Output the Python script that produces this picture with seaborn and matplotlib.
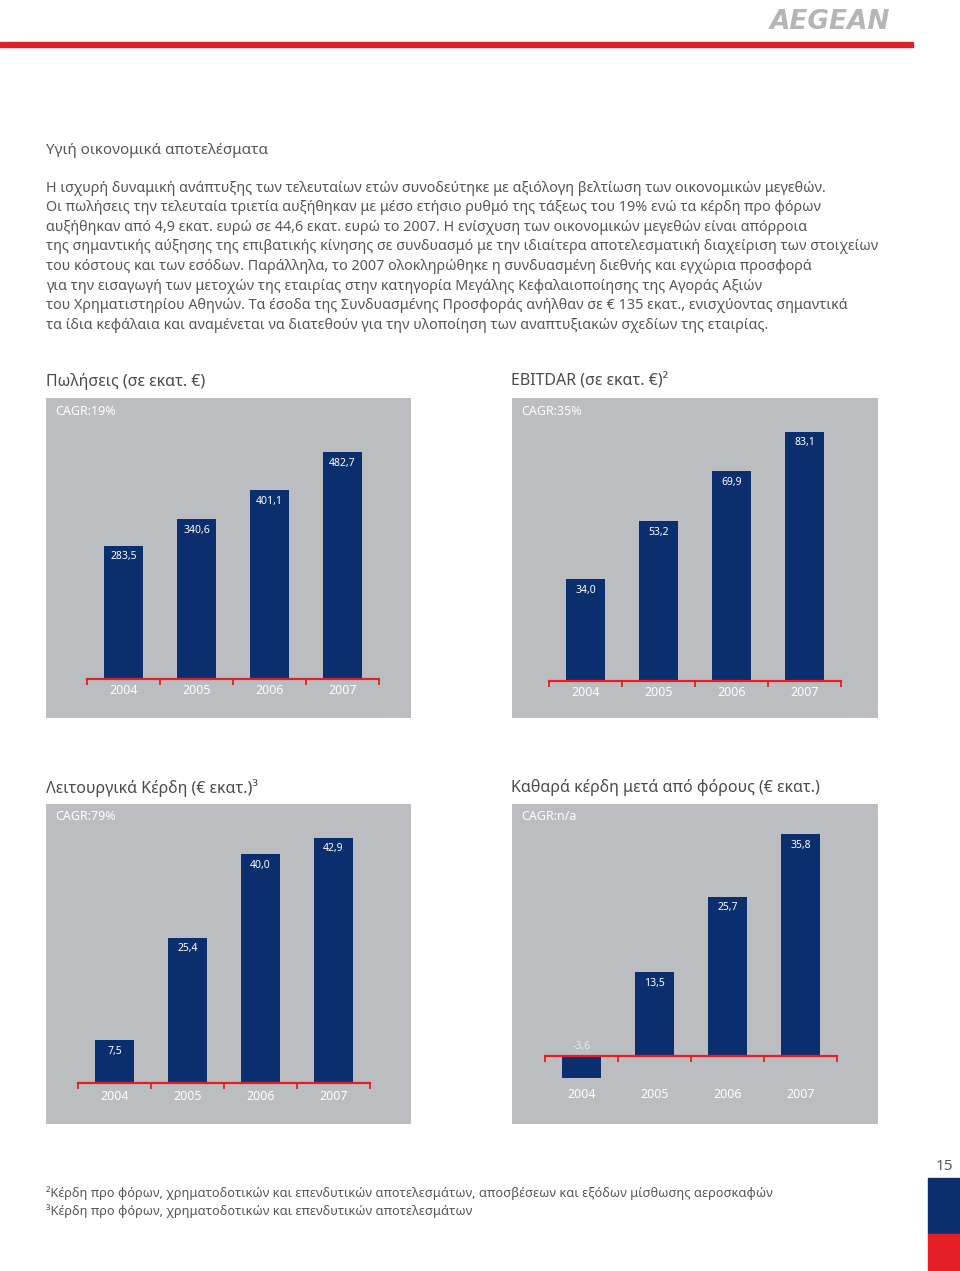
import pandas as pd
import seaborn as sns
import matplotlib.pyplot as plt
from matplotlib.patches import Rectangle

sns.set_style("white")
plt.rcParams['font.family'] = ['Noto Sans', 'DejaVu Sans']

# Δεδομένα
years = ['2004', '2005', '2006', '2007']
sales = [283.5, 340.6, 401.1, 482.7]
ebitdar = [34.0, 53.2, 69.9, 83.1]
operating = [7.5, 25.4, 40.0, 42.9]
net_profit = [-3.6, 13.5, 25.7, 35.8]

titles = ['Πωλήσεις (σε εκατ. €)', 'EBITDAR (σε εκατ. €)²',
          'Λειτουργικά Κέρδη (€ εκατ.)³', 'Καθαρά κέρδη μετά από φόρους (€ εκατ.)']
cagr = ['CAGR:19%', 'CAGR:35%', 'CAGR:79%', 'CAGR:n/a']

heading = 'Υγιή οικονομικά αποτελέσματα'
paragraph = [
    'Η ισχυρή δυναμική ανάπτυξης των τελευταίων ετών συνοδεύτηκε με αξιόλογη βελτίωση των οικονομικών μεγεθών.',
    'Οι πωλήσεις την τελευταία τριετία αυξήθηκαν με μέσο ετήσιο ρυθμό της τάξεως του 19% ενώ τα κέρδη προ φόρων',
    'αυξήθηκαν από 4,9 εκατ. ευρώ σε 44,6 εκατ. ευρώ το 2007. Η ενίσχυση των οικονομικών μεγεθών είναι απόρροια',
    'της σημαντικής αύξησης της επιβατικής κίνησης σε συνδυασμό με την ιδιαίτερα αποτελεσματική διαχείριση των στοιχείων',
    'του κόστους και των εσόδων. Παράλληλα, το 2007 ολοκληρώθηκε η συνδυασμένη διεθνής και εγχώρια προσφορά',
    'για την εισαγωγή των μετοχών της εταιρίας στην κατηγορία Μεγάλης Κεφαλαιοποίησης της Αγοράς Αξιών',
    'του Χρηματιστηρίου Αθηνών. Τα έσοδα της Συνδυασμένης Προσφοράς ανήλθαν σε € 135 εκατ., ενισχύοντας σημαντικά',
    'τα ίδια κεφάλαια και αναμένεται να διατεθούν για την υλοποίηση των αναπτυξιακών σχεδίων της εταιρίας.',
]
footnotes = [
    '²Κέρδη προ φόρων, χρηματοδοτικών και επενδυτικών αποτελεσμάτων, αποσβέσεων και εξόδων μίσθωσης αεροσκαφών',
    '³Κέρδη προ φόρων, χρηματοδοτικών και επενδυτικών αποτελεσμάτων',
]

NAVY = '#0b2f6e'
RED = '#e31e24'
PANEL = '#bcbdc0'
TEXT = '#555658'

W, H = 960, 1271
fig = plt.figure(figsize=(W / 100, H / 100), dpi=100)

def px(x, y):
    return x / W, 1 - y / H

# κεφαλίδα σελίδας
fig.patches.append(Rectangle(px(0, 47), 913 / W, 5 / H, transform=fig.transFigure,
                             color=RED, zorder=0))
fig.text(*px(890, 22), 'AEGEAN', ha='right', va='center', fontsize=19,
         fontweight='bold', style='italic', color='#b3b5b7', family='DejaVu Sans')

# πλαϊνά μπλοκ
fig.patches.append(Rectangle(px(928, 1234), 32 / W, 56 / H, transform=fig.transFigure,
                             color=NAVY, zorder=0))
fig.patches.append(Rectangle(px(928, 1271), 32 / W, 37 / H, transform=fig.transFigure,
                             color=RED, zorder=0))
fig.text(*px(944, 1166), '15', ha='center', va='center', fontsize=11, color=TEXT)

fig.text(*px(46, 150), heading, ha='left', va='center', fontsize=10.9, color=TEXT)
for i, line in enumerate(paragraph):
    fig.text(*px(46, 188 + i * 19.6), line, ha='left', va='center', fontsize=10.3, color=TEXT)

for i, line in enumerate(footnotes):
    fig.text(*px(46, 1193 + i * 18), line, ha='left', va='center', fontsize=9.2, color=TEXT)

# (box l,t,r,b), κέντρο 1ης μπάρας, βάση, px ανά μονάδα, pad ετικετών, θέση τίτλου
panels = [
    ((46, 398, 411, 718), 123.5, 679, 0.47, 3.6, (46, 381), sales),
    ((512, 398, 878, 718), 585.5, 681, 3.0, 3.6, (511, 381), ebitdar),
    ((46, 804, 411, 1124), 114.5, 1083, 5.72, 5.0, (46, 788), operating),
    ((512, 804, 878, 1124), 581.5, 1056, 6.2, 23.0, (511, 788), net_profit),
]
step = 73

for k, (box, x0, base, scale, pad, tpos, vals) in enumerate(panels):
    l, t, r, b = box
    ax = fig.add_axes([l / W, 1 - b / H, (r - l) / W, (b - t) / H])
    ax.set_facecolor(PANEL)
    df = pd.DataFrame({'year': years, 'value': vals})
    sns.barplot(data=df, x='year', y='value', order=years, color=NAVY,
                saturation=1, width=0.534, ax=ax, zorder=2,
                edgecolor=NAVY, linewidth=0)
    ax.set_xlim((l - x0) / step, (r - x0) / step)
    ax.set_ylim((base - b) / scale, (base - t) / scale)
    ax.set_xlabel('')
    ax.set_ylabel('')
    ax.set_yticks([])
    for s in ['top', 'left', 'right']:
        ax.spines[s].set_visible(False)
    sp = ax.spines['bottom']
    sp.set_position(('data', 0))
    sp.set_bounds(-0.5, 3.5)
    sp.set_color(RED)
    sp.set_linewidth(1.6)
    sp.set_zorder(3)
    ax.set_xticks(range(len(years)))
    ax.set_xticklabels(years)
    ax.set_xticks([-0.5, 0.5, 1.5, 2.5, 3.5], minor=True)
    ax.tick_params(axis='x', which='major', length=0, pad=pad, labelsize=9,
                   labelcolor='white')
    ax.tick_params(axis='x', which='minor', length=4, width=1.3, color=RED,
                   direction='out', bottom=True)
    for i, v in enumerate(vals):
        lab = f'{v:.1f}'.replace('.', ',')
        if v >= 0:
            ax.annotate(lab, (i, v), xytext=(0, -8), textcoords='offset points',
                        ha='center', va='center', fontsize=7.5, color='white', zorder=4)
        else:
            ax.annotate(lab, (i, 0), xytext=(0, 6.5), textcoords='offset points',
                        ha='center', va='center', fontsize=7.5, color='#e8e8ea', zorder=4)
    ax.text(9 / (r - l), 1 - 13 / (b - t), cagr[k], transform=ax.transAxes,
            ha='left', va='center', fontsize=9, color='white')
    fig.text(*px(*tpos), titles[k], ha='left', va='center', fontsize=11.5, color='#4a4b4d')

fig.savefig('out.png', dpi=100)
